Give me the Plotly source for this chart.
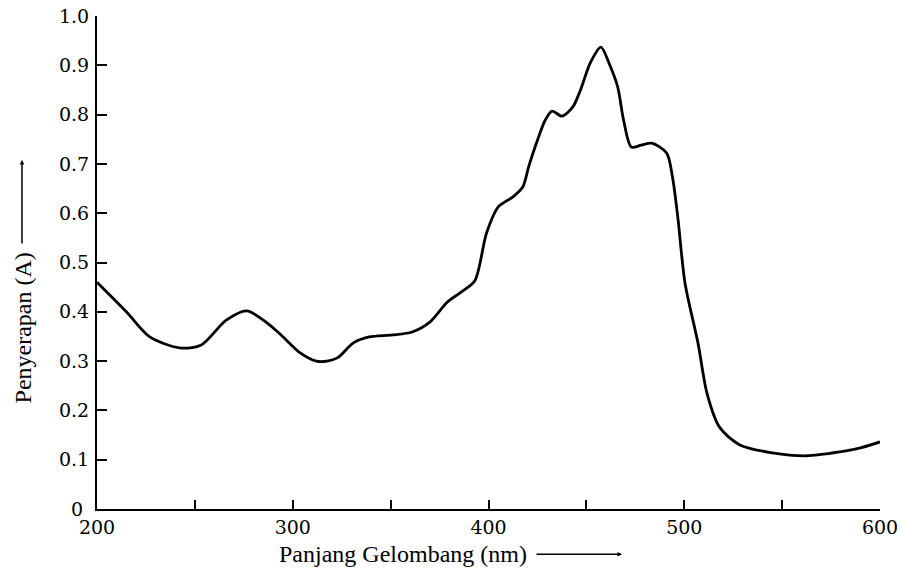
import plotly.graph_objects as go

wavelength = [200, 215, 227, 242, 253, 266, 276.5, 287, 294, 304, 312, 317.5, 323, 331, 339, 351,
              361, 370, 379, 386, 393, 399, 405, 412.5, 417.5, 420.5, 425, 429, 432.5, 437.5, 443,
              447, 452, 457.4, 462, 466, 469, 473, 478, 483.4, 491, 494, 496.7, 500.4, 507, 511.6,
              518, 528.4, 545, 562.6, 579.5, 590, 600]
absorb = [0.46, 0.40, 0.349, 0.327, 0.332, 0.383, 0.402, 0.377, 0.353, 0.316, 0.300, 0.300, 0.307,
          0.337, 0.349, 0.353, 0.359, 0.379, 0.420, 0.440, 0.463, 0.56, 0.613, 0.633, 0.653, 0.694,
          0.748, 0.789, 0.807, 0.797, 0.815, 0.85, 0.905, 0.937, 0.90, 0.856, 0.789, 0.734, 0.738,
          0.742, 0.722, 0.673, 0.592, 0.458, 0.337, 0.235, 0.166, 0.13, 0.114, 0.108, 0.116, 0.124, 0.136]

x_ticks = [200, 300, 400, 500, 600]
x_ticktext = ["200", "300", "400", "500", "600"]
x_minor = [250, 350, 450, 550]
y_ticks = [0, 0.1, 0.2, 0.3, 0.4, 0.5, 0.6, 0.7, 0.8, 0.9, 1.0]
y_ticktext = ["0\u00a0", "0.1", "0.2", "0.3", "0.4", "0.5", "0.6", "0.7", "0.8", "0.9", "1.0"]

fig = go.Figure()
fig.add_trace(go.Scatter(x=wavelength, y=absorb, mode="lines",
                         line=dict(color="black", width=2.8, shape="spline", smoothing=0.8),
                         showlegend=False, hoverinfo="skip"))

tickfont = dict(family="DejaVu Serif", size=19, color="black")
titlefont = dict(family="Liberation Serif", size=24, color="black")
fig.update_layout(
    width=901, height=574,
    margin=dict(l=97, r=21, t=16, b=65),
    paper_bgcolor="white", plot_bgcolor="white",
    xaxis=dict(range=[200, 600], tickvals=x_ticks, ticktext=x_ticktext, automargin=False,
               ticks="inside", ticklen=9, tickwidth=1.5, tickcolor="black",
               minor=dict(tickvals=x_minor, ticks="inside", ticklen=9, tickwidth=1.5, tickcolor="black"),
               showline=True, linecolor="black", linewidth=2, showgrid=False, zeroline=False,
               tickfont=tickfont, ticklabeloverflow="allow", ticklabelstandoff=0),
    yaxis=dict(range=[0, 1.0], tickvals=y_ticks, ticktext=y_ticktext, automargin=False,
               ticks="inside", ticklen=10, tickwidth=2, tickcolor="black",
               showline=True, linecolor="black", linewidth=2, showgrid=False, zeroline=False,
               tickfont=tickfont, ticklabelstandoff=2, ticklabeloverflow="allow"),
    annotations=[
        dict(text="Panjang Gelombang (nm)", x=0.391, y=-0.091, xref="paper", yref="paper",
             xanchor="center", yanchor="middle", showarrow=False, font=titlefont),
        dict(text="", x=0.6705, y=-0.092, xref="paper", yref="paper", showarrow=True,
             ax=-87, ay=0, arrowhead=2, arrowsize=0.6, arrowwidth=1.5, arrowcolor="black"),
        dict(text="Penyerapan (A)", x=-0.094, y=0.367, xref="paper", yref="paper",
             xanchor="center", yanchor="middle", textangle=-90, showarrow=False, font=titlefont),
        dict(text="", x=-0.0958, y=0.708, xref="paper", yref="paper", showarrow=True,
             ax=0, ay=85, arrowhead=2, arrowsize=0.6, arrowwidth=1.5, arrowcolor="black"),
    ],
)

fig.write_html("out.html", config={"displayModeBar": False},
               post_script="document.body.style.margin='0px';document.body.style.overflow='hidden';")
